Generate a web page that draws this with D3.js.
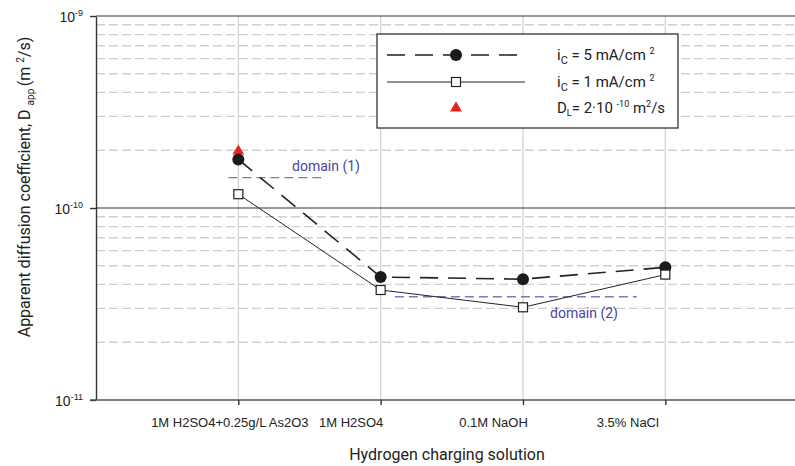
<!DOCTYPE html>
<html>
<head>
<meta charset="utf-8">
<script src="https://cdn.jsdelivr.net/npm/d3@7"></script>
<style>
  body { margin: 0; background: #fff; }
  svg { font-family: Roboto, "Open Sans", sans-serif; }
</style>
</head>
<body>
<div id="chart"></div>
<script>
const solutions = ["1M H2SO4+0.25g/L As2O3", "1M H2SO4", "0.1M NaOH", "3.5% NaCl"];
const d5mA = [1.79e-10, 4.37e-11, 4.26e-11, 4.91e-11];
const d1mA = [1.18e-10, 3.74e-11, 3.04e-11, 4.50e-11];
const dLattice = [{ cat: 0, v: 2e-10 }];
const domain1 = { from: -0.07, to: 0.59, v: 1.44e-10, label: "domain (1)" };
const domain2 = { from: 1.1, to: 2.8, v: 3.45e-11, label: "domain (2)" };
const yMajor = [1e-11, 1e-10, 1e-9];
const yMinor = [2, 3, 4, 5, 6, 7, 8, 9].flatMap(m => [m * 1e-11, m * 1e-10]);

(() => {
  const W = 795, H = 466;
  const left = 96, top = 16, bottom = 400;
  const step = 142.33;

  const svg = d3.select("#chart").append("svg")
    .attr("width", W).attr("height", H);

  const x = d3.scaleLinear().domain([-1, 4]).range([left, left + 5 * step]);
  const y = d3.scaleLog().domain([1e-11, 1e-9]).range([bottom, top]);

  // minor grid
  svg.append("g").selectAll("line").data(yMinor).join("line")
    .attr("x1", left).attr("x2", W)
    .attr("y1", d => y(d)).attr("y2", d => y(d))
    .attr("stroke", "#cfcfcf").attr("stroke-width", 1.4)
    .attr("stroke-dasharray", "9,4");

  // vertical grid
  svg.append("g").selectAll("line").data(solutions).join("line")
    .attr("x1", (d, i) => x(i)).attr("x2", (d, i) => x(i))
    .attr("y1", top).attr("y2", bottom)
    .attr("stroke", "#cfcfcf").attr("stroke-width", 1.2);

  // major grid
  svg.append("g").selectAll("line").data(yMajor.slice(1)).join("line")
    .attr("x1", left).attr("x2", W)
    .attr("y1", d => y(d)).attr("y2", d => y(d))
    .attr("stroke", "#333").attr("stroke-width", 1.2);

  // y axis
  const gy = svg.append("g").attr("transform", `translate(${left},0)`)
    .call(d3.axisLeft(y).tickValues(yMajor).tickSize(6).tickSizeOuter(0).tickFormat(() => ""));
  gy.select(".domain").attr("stroke", "#333").attr("stroke-width", 1.4);
  gy.selectAll(".tick line").attr("stroke", "#333").attr("stroke-width", 1.4);
  gy.selectAll(".tick").append("text")
    .attr("x", -13).attr("y", 5).attr("text-anchor", "end")
    .attr("fill", "#222").attr("font-size", 14)
    .each(function (d) {
      const t = d3.select(this);
      t.append("tspan").text("10");
      t.append("tspan").attr("dy", -6).attr("font-size", 9).text(Math.round(Math.log10(d)));
    });

  // x axis
  const labelShift = [-9, -30, -30, -38];
  const gx = svg.append("g").attr("transform", `translate(0,${bottom})`)
    .call(d3.axisBottom(x).tickValues(d3.range(solutions.length)).tickSize(5).tickSizeOuter(0)
      .tickFormat(i => solutions[i]));
  gx.select(".domain").attr("stroke", "#555").attr("stroke-width", 1.6)
    .attr("d", `M${left - 6},0H${W}`);
  gx.selectAll(".tick line").attr("stroke", "#333").attr("stroke-width", 1.4);
  gx.selectAll(".tick text")
    .attr("font-size", 13).attr("fill", "#222").attr("y", 18)
    .attr("dx", (d, i) => labelShift[i]);

  // axis titles
  svg.append("text")
    .attr("x", 447).attr("y", 460).attr("text-anchor", "middle")
    .attr("font-size", 16).attr("fill", "#222")
    .text("Hydrogen charging solution");

  const yt = svg.append("text")
    .attr("transform", "translate(30,187) rotate(-90)")
    .attr("text-anchor", "middle").attr("font-size", 16).attr("fill", "#222");
  yt.append("tspan").text("Apparent diffusion coefficient, D  ");
  yt.append("tspan").attr("dy", 4).attr("font-size", 10).text(" app ");
  yt.append("tspan").attr("dy", -4).text(" (m ");
  yt.append("tspan").attr("dy", -6).attr("font-size", 10).text("2");
  yt.append("tspan").attr("dy", 6).text("/s)");

  // domain lines
  [domain1, domain2].forEach((dm, k) => {
    svg.append("line")
      .attr("x1", x(dm.from)).attr("x2", x(dm.to))
      .attr("y1", y(dm.v)).attr("y2", y(dm.v))
      .attr("stroke", "#7d76c6").attr("stroke-width", 1.4)
      .attr("stroke-dasharray", "9,5");
    svg.append("text")
      .attr("x", k === 0 ? 292 : 550)
      .attr("y", y(dm.v) + (k === 0 ? -7 : 21))
      .attr("font-size", 14).attr("fill", "#4a43a8")
      .text(dm.label);
  });

  const line = d3.line().x((d, i) => x(i)).y(d => y(d));

  svg.append("path").datum(d1mA)
    .attr("d", line).attr("fill", "none")
    .attr("stroke", "#222").attr("stroke-width", 1);
  svg.append("path").datum(d5mA)
    .attr("d", line).attr("fill", "none")
    .attr("stroke", "#222").attr("stroke-width", 1.6)
    .attr("stroke-dasharray", "18,10");

  const tri = d3.symbol().type(d3.symbolTriangle).size(60);
  svg.append("g").selectAll("path").data(dLattice).join("path")
    .attr("d", tri)
    .attr("transform", d => `translate(${x(d.cat)},${y(d.v) + 1})`)
    .attr("fill", "#e8231c");

  svg.append("g").selectAll("circle").data(d5mA).join("circle")
    .attr("cx", (d, i) => x(i)).attr("cy", d => y(d)).attr("r", 6)
    .attr("fill", "#1a1a1a");

  svg.append("g").selectAll("rect").data(d1mA).join("rect")
    .attr("x", (d, i) => x(i) - 4.5).attr("y", d => y(d) - 4.5)
    .attr("width", 9).attr("height", 9)
    .attr("fill", "#fff").attr("stroke", "#222").attr("stroke-width", 1.2);

  // legend
  const lg = svg.append("g").attr("transform", "translate(377,34)");
  lg.append("rect").attr("width", 301).attr("height", 94)
    .attr("fill", "#fff").attr("stroke", "#222").attr("stroke-width", 1.2);
  lg.append("line").attr("x1", 10).attr("x2", 148).attr("y1", 21).attr("y2", 21)
    .attr("stroke", "#222").attr("stroke-width", 1.6).attr("stroke-dasharray", "18,10");
  lg.append("circle").attr("cx", 79).attr("cy", 21).attr("r", 6).attr("fill", "#1a1a1a");
  lg.append("line").attr("x1", 10).attr("x2", 148).attr("y1", 48).attr("y2", 48)
    .attr("stroke", "#222").attr("stroke-width", 1);
  lg.append("rect").attr("x", 74.5).attr("y", 43.5).attr("width", 9).attr("height", 9)
    .attr("fill", "#fff").attr("stroke", "#222").attr("stroke-width", 1.2);
  lg.append("path").attr("d", tri).attr("transform", "translate(79,74)").attr("fill", "#e8231c");

  const legendText = [["5", 26], ["1", 53]];
  legendText.forEach(([n, yy]) => {
    const t = lg.append("text").attr("x", 180).attr("y", yy)
      .attr("font-size", 15).attr("fill", "#222");
    t.append("tspan").text("i");
    t.append("tspan").attr("dy", 4).attr("font-size", 11).text("C");
    t.append("tspan").attr("dy", -4).text(` = ${n} mA/cm `);
    t.append("tspan").attr("dy", -6).attr("font-size", 9).text("2");
  });
  const t3 = lg.append("text").attr("x", 180).attr("y", 79)
    .attr("font-size", 15).attr("fill", "#222");
  t3.append("tspan").text("D");
  t3.append("tspan").attr("dy", 3).attr("font-size", 9).text("L");
  t3.append("tspan").attr("dy", -3).text("= 2·10 ");
  t3.append("tspan").attr("dy", -6).attr("font-size", 9).text("-10");
  t3.append("tspan").attr("dy", 6).text(" m");
  t3.append("tspan").attr("dy", -6).attr("font-size", 9).text("2");
  t3.append("tspan").attr("dy", 6).text("/s");
})();
</script>
</body>
</html>
